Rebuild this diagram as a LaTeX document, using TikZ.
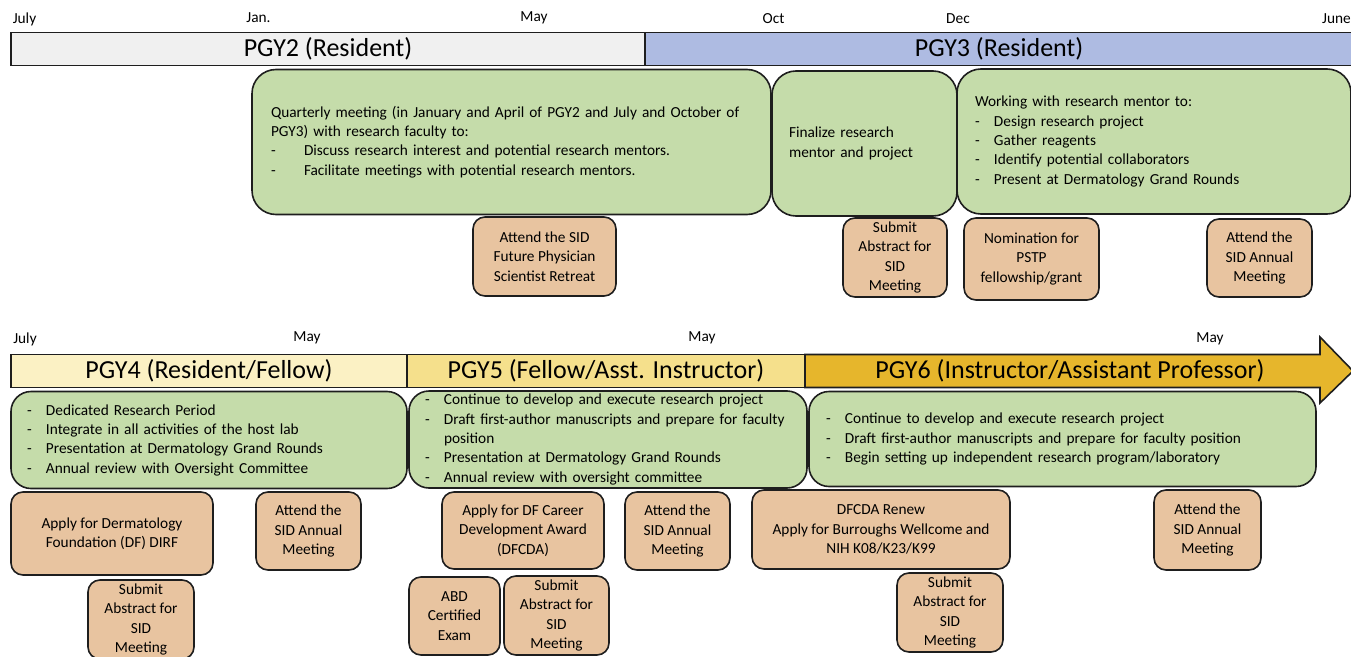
\documentclass[tikz,border=0pt]{standalone}
\usepackage{fontspec}
\setmainfont{Carlito}
\usepackage{tikz}
\usetikzlibrary{positioning}

\definecolor{pgytwo}{HTML}{F0F0F0}
\definecolor{pgythree}{HTML}{AEBBE2}
\definecolor{pgyfour}{HTML}{FBF1C4}
\definecolor{pgyfive}{HTML}{F5E08C}
\definecolor{pgysix}{HTML}{E6B62C}
\definecolor{taskgreen}{HTML}{C5DCAA}
\definecolor{eventtan}{HTML}{E8C4A0}
\definecolor{edgegray}{HTML}{1E1E1E}

\newcommand{\pxu}{0.75pt}
\newcommand{\dashitem}[1][14.25pt]{\makebox[#1][l]{-}}

\begin{document}
\begin{tikzpicture}[
    x=0.75pt, y=-0.75pt,
    every node/.style={font=\fontsize{11.5}{14.5}\selectfont},
    month/.style={inner sep=0pt},
    phase/.style={
        draw=edgegray,
        line width=1.2pt,
        minimum height=33*\pxu,
        font=\fontsize{19.5}{23}\selectfont
    },
    task/.style={
        draw=edgegray,
        line width=1.2pt,
        rounded corners=18pt,
        fill=taskgreen,
        inner ysep=2pt,
        align=left
    },
    event/.style={
        draw=edgegray,
        line width=1.2pt,
        rounded corners=9pt,
        fill=eventtan,
        align=center,
        inner sep=1pt
    }
]
\clip (0,0) rectangle (1351,656);

% Months, upper timeline
\node[month] (julA) at (24.5,19) {July};
\node[month] (janA) at (258.5,18) {Jan.};
\node[month] (mayA) at (534,18) {May};
\node[month] (octA) at (773.5,19) {Oct};
\node[month] (decA) at (958,19) {Dec};
\node[month, anchor=east] (junA) at (1351,19) {June};

% Upper phases
\node[phase, fill=pgytwo, minimum width=634*\pxu] (pgy2) at (328,49) {PGY2 (Resident)};
\node[phase, fill=pgythree, minimum width=708*\pxu] (pgy3) at (999,49) {PGY3 (Resident)};

% Upper tasks
\node[task, minimum width=519*\pxu, minimum height=145*\pxu, text width=481*\pxu, inner xsep=19*\pxu] (quarterly) at (511.5,142)
    {Quarterly meeting (in January and April of PGY2 and July and October of\\
     PGY3) with research faculty to:\\
     \dashitem[24.75pt]Discuss research interest and potential research mentors.\\
     \dashitem[24.75pt]Facilitate meetings with potential research mentors.};
\node[task, minimum width=185*\pxu, minimum height=145*\pxu, text width=151*\pxu, inner xsep=17*\pxu] (finalize) at (864.5,143.5)
    {Finalize research\\mentor and project};
\node[task, minimum width=394*\pxu, minimum height=145*\pxu, text width=358*\pxu, inner xsep=18*\pxu] (mentor) at (1154,141.5)
    {Working with research mentor to:\\
     \dashitem Design research project\\
     \dashitem Gather reagents\\
     \dashitem Identify potential collaborators\\
     \dashitem Present at Dermatology Grand Rounds};

% Upper events
\node[event, minimum width=143*\pxu, minimum height=79*\pxu] (retreat) at (544.5,256.5)
    {Attend the SID\\Future Physician\\Scientist Retreat};
\node[event, minimum width=104*\pxu, minimum height=79*\pxu] (abstractA) at (895,257.5)
    {Submit\\Abstract for\\SID\\Meeting};
\node[event, minimum width=135*\pxu, minimum height=82*\pxu] (pstp) at (1031.5,259)
    {Nomination for\\PSTP\\fellowship/grant};
\node[event, minimum width=105*\pxu, minimum height=78*\pxu] (annualA) at (1259.5,258)
    {Attend the\\SID Annual\\Meeting};

% Months, lower timeline
\node[month] (julB) at (25,339) {July};
\node[month] (mayB) at (307,338) {May};
\node[month] (mayC) at (702,338) {May};
\node[month] (mayD) at (1210,339) {May};

% Lower phases
\node[phase, fill=pgyfour, minimum width=396*\pxu] (pgy4) at (209,371) {PGY4 (Resident/Fellow)};
\node[phase, fill=pgyfive, minimum width=398*\pxu] (pgy5) at (606,371) {PGY5 (Fellow/Asst. Instructor)};
\draw[draw=edgegray, line width=1.2pt, fill=pgysix]
    (805,354.5) -- (1320,354.5) -- (1320,337) -- (1353,371) -- (1320,403) -- (1320,387.5) -- (805,387.5) -- cycle;
\node[font=\fontsize{19.5}{23}\selectfont] (pgy6) at (1070,371) {PGY6 (Instructor/Assistant Professor)};

% Lower tasks
\node[task, rounded corners=15pt, minimum width=396*\pxu, minimum height=97*\pxu, text width=364*\pxu, inner xsep=16*\pxu] (dedicated) at (209,440)
    {\dashitem Dedicated Research Period\\
     \dashitem Integrate in all activities of the host lab\\
     \dashitem Presentation at Dermatology Grand Rounds\\
     \dashitem Annual review with Oversight Committee};
\node[task, rounded corners=15pt, minimum width=398*\pxu, minimum height=97*\pxu, text width=366*\pxu, inner xsep=16*\pxu] (continueA) at (608,439.5)
    {\dashitem Continue to develop and execute research project\\
     \dashitem Draft first-author manuscripts and prepare for faculty\\
     \hspace*{14.25pt}position\\
     \dashitem Presentation at Dermatology Grand Rounds\\
     \dashitem Annual review with oversight committee};
\node[task, rounded corners=15pt, minimum width=507*\pxu, minimum height=95*\pxu, text width=473*\pxu, inner xsep=17*\pxu] (continueB) at (1062.5,439)
    {\dashitem Continue to develop and execute research project\\
     \dashitem Draft first-author manuscripts and prepare for faculty position\\
     \dashitem Begin setting up independent research program/laboratory};

% Lower events
\node[event, minimum width=202*\pxu, minimum height=83*\pxu] (dirf) at (112,533.5)
    {Apply for Dermatology\\Foundation (DF) DIRF};
\node[event, minimum width=105*\pxu, minimum height=78*\pxu] (annualB) at (308.5,531)
    {Attend the\\SID Annual\\Meeting};
\node[event, minimum width=106*\pxu, minimum height=79*\pxu] (abstractB) at (141,619.5)
    {Submit\\Abstract for\\SID\\Meeting};
\node[event, minimum width=162*\pxu, minimum height=77*\pxu] (dfcda) at (523,530.5)
    {Apply for DF Career\\Development Award\\(DFCDA)};
\node[event, minimum width=105*\pxu, minimum height=78*\pxu] (annualC) at (677.5,531)
    {Attend the\\SID Annual\\Meeting};
\node[event, minimum width=91*\pxu, minimum height=78*\pxu] (abd) at (454.5,616)
    {ABD\\Certified\\Exam};
\node[event, minimum width=105*\pxu, minimum height=79*\pxu] (abstractC) at (556.5,615.5)
    {Submit\\Abstract for\\SID\\Meeting};
\node[event, minimum width=258*\pxu, minimum height=79*\pxu] (renew) at (881,529.5)
    {DFCDA Renew\\Apply for Burroughs Wellcome and\\NIH K08/K23/K99};
\node[event, minimum width=106*\pxu, minimum height=79*\pxu] (abstractD) at (950,612.5)
    {Submit\\Abstract for\\SID\\Meeting};
\node[event, minimum width=107*\pxu, minimum height=80*\pxu] (annualD) at (1207.5,530)
    {Attend the\\SID Annual\\Meeting};

\end{tikzpicture}
\end{document}
